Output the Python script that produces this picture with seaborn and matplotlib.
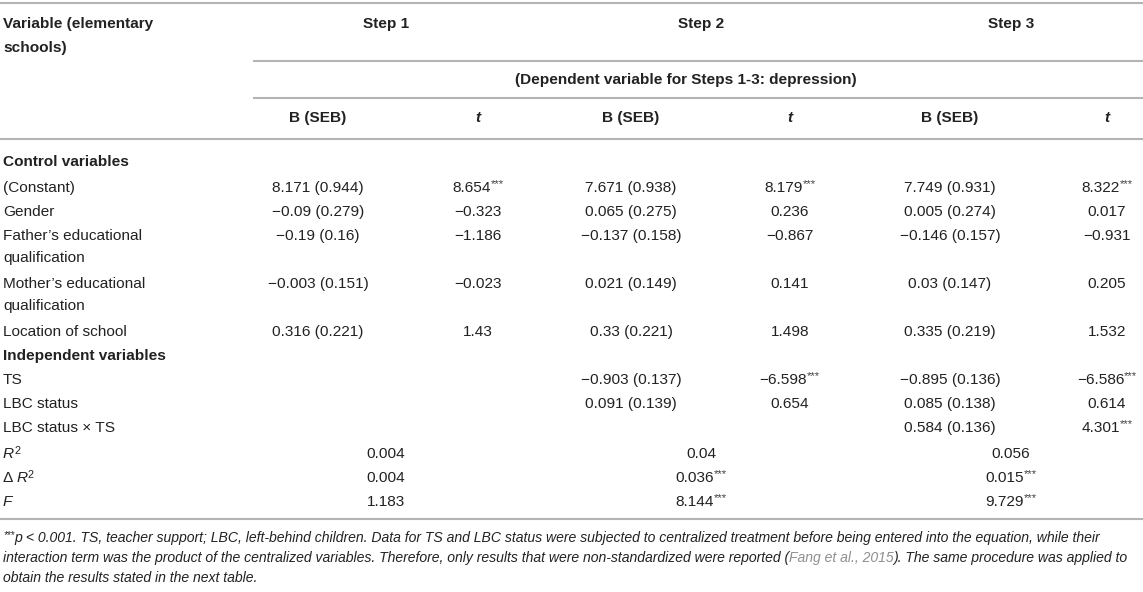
import matplotlib
matplotlib.use("Agg")
import matplotlib.pyplot as plt
import seaborn as sns

# ---------------- data ----------------
row_labels = ["(Constant)", "Gender", "Father’s educational\nqualification",
              "Mother’s educational\nqualification", "Location of school",
              "TS", "LBC status", "LBC status × TS"]
sections = ["Control variables", "Independent variables"]
step_names = ["Step 1", "Step 2", "Step 3"]

step1_B = [8.171, -0.09, -0.19, -0.003, 0.316, None, None, None]
step1_SE = [0.944, 0.279, 0.16, 0.151, 0.221, None, None, None]
step1_t = [8.654, -0.323, -1.186, -0.023, 1.43, None, None, None]
step1_sig = [3, 0, 0, 0, 0, 0, 0, 0]

step2_B = [7.671, 0.065, -0.137, 0.021, 0.33, -0.903, 0.091, None]
step2_SE = [0.938, 0.275, 0.158, 0.149, 0.221, 0.137, 0.139, None]
step2_t = [8.179, 0.236, -0.867, 0.141, 1.498, -6.598, 0.654, None]
step2_sig = [3, 0, 0, 0, 0, 3, 0, 0]

step3_B = [7.749, 0.005, -0.146, 0.03, 0.335, -0.895, 0.085, 0.584]
step3_SE = [0.931, 0.274, 0.157, 0.147, 0.219, 0.136, 0.138, 0.136]
step3_t = [8.322, 0.017, -0.931, 0.205, 1.532, -6.586, 0.614, 4.301]
step3_sig = [3, 0, 0, 0, 0, 3, 0, 3]

R2 = [0.004, 0.04, 0.056]
R2_sig = [0, 0, 0]
dR2 = [0.004, 0.036, 0.015]
dR2_sig = [0, 3, 3]
F_vals = [1.183, 8.144, 9.729]
F_sig = [0, 3, 3]

footnote_lines = [
    [("***", "sup"), ("p", "it"),
     (" < 0.001. TS, teacher support; LBC, left-behind children. Data for TS and LBC status were subjected to centralized treatment before being entered into the equation, while their", "it")],
    [("interaction term was the product of the centralized variables. Therefore, only results that were non-standardized were reported (", "it"),
     ("Fang et al., 2015", "link"),
     ("). The same procedure was applied to", "it")],
    [("obtain the results stated in the next table.", "it")],
]

# ---------------- style ----------------
sns.set_theme(style="white")
plt.rcParams["font.family"] = ["Liberation Sans", "DejaVu Sans"]

W, H = 1143, 592
TXT = "#222222"
RULE = "#b4b4b4"
LINK = "#8f8f8f"
FS = 11.1

fig = plt.figure(figsize=(W / 100, H / 100), dpi=100)
ax = fig.add_axes([0, 0, 1, 1])
ax.set_xlim(0, W)
ax.set_ylim(H, 0)
ax.axis("off")
renderer = fig.canvas.get_renderer()


def measure(s, size, weight, style):
    t = ax.text(0, 0, s + "|", fontsize=size, fontweight=weight, fontstyle=style)
    w1 = t.get_window_extent(renderer).width
    t.set_text("|")
    w2 = t.get_window_extent(renderer).width
    t.remove()
    return w1 - w2


def rich(x, y, parts, ha="left", draw=True):
    """parts: list of dicts(text, size, weight, style, dy, color). y = row centre."""
    widths = [measure(p["text"], p.get("size", FS), p.get("weight", "normal"),
                      p.get("style", "normal")) for p in parts]
    total = sum(widths)
    if not draw:
        return total
    x0 = x - total / 2 if ha == "center" else x
    base = round(y + 4.5)
    for p, w in zip(parts, widths):
        ax.text(x0, base + p.get("dy", 0), p["text"], ha="left", va="baseline",
                fontsize=p.get("size", FS), fontweight=p.get("weight", "normal"),
                fontstyle=p.get("style", "normal"), color=p.get("color", TXT))
        x0 += w
    return total


def fmt(v):
    return f"{v:g}".replace("-", "\u2212")


def value_parts(text, nstars, size=FS):
    parts = [dict(text=text, size=size)]
    if nstars:
        parts.append(dict(text="*" * nstars, size=8.2, dy=-4.5, color="#444444"))
    return parts


def rule(y, x0=0, x1=W):
    ax.plot([x0, x1], [y, y], color=RULE, lw=1.5, solid_capstyle="butt")


# ---------------- layout ----------------
LEFT = 3
step_cx = [386, 701, 1011]
b_cx = [318, 631, 950]
t_cx = [478, 790, 1107]
row_y = [187, 211, 235, 283, 331, 380, 404, 428]
section_y = [162, 355]
stat_y = [453, 477, 501]
line_gap = 22

# rules
rule(3)
rule(61, 253)
rule(98, 253)
rule(139)
rule(519)

# header
rich(LEFT, 23, [dict(text="Variable (elementary", weight="bold")])
rich(LEFT, 47, [dict(text="schools)", weight="bold")])
for cx, name in zip(step_cx, step_names):
    rich(cx, 23, [dict(text=name, weight="bold")], ha="center")
rich(686, 80, [dict(text="(Dependent variable for Steps 1-3: depression)", weight="bold")], ha="center")
for bx, tx in zip(b_cx, t_cx):
    rich(bx, 118, [dict(text="B (SEB)", weight="bold")], ha="center")
    rich(tx, 118, [dict(text="t", weight="bold", style="italic")], ha="center")

# sections
for sy, sname in zip(section_y, sections):
    rich(LEFT, sy, [dict(text=sname, weight="bold")])

# body rows
steps = [(step1_B, step1_SE, step1_t, step1_sig),
         (step2_B, step2_SE, step2_t, step2_sig),
         (step3_B, step3_SE, step3_t, step3_sig)]
for i, (label, y) in enumerate(zip(row_labels, row_y)):
    for k, line in enumerate(label.split("\n")):
        rich(LEFT, y + k * line_gap, [dict(text=line)])
    for (B, SE, T, SIG), bx, tx in zip(steps, b_cx, t_cx):
        if B[i] is None:
            continue
        rich(bx, y, value_parts(f"{fmt(B[i])} ({fmt(SE[i])})", 0), ha="center")
        rich(tx, y, value_parts(fmt(T[i]), SIG[i]), ha="center")

# model statistics
stat_labels = [
    [dict(text="R", style="italic"), dict(text="2", size=7.8, dy=-4.5)],
    [dict(text="Δ "), dict(text="R", style="italic"), dict(text="2", size=7.8, dy=-4.5)],
    [dict(text="F", style="italic")],
]
stat_vals = [(R2, R2_sig), (dR2, dR2_sig), (F_vals, F_sig)]
for lab, y, (vals, sig) in zip(stat_labels, stat_y, stat_vals):
    rich(LEFT, y, lab)
    for cx, v, s in zip(step_cx, vals, sig):
        rich(cx, y, value_parts(fmt(v), s), ha="center")


# footnote: fit the widest line to the table width
def foot_parts(segs, fs):
    parts = []
    for s, kind in segs:
        if kind == "sup":
            parts.append(dict(text=s, size=fs * 0.7, style="italic", dy=-4))
        elif kind == "link":
            parts.append(dict(text=s, size=fs, style="italic", color=LINK))
        else:
            parts.append(dict(text=s, size=fs, style="italic"))
    return parts


w10 = max(rich(LEFT, 0, foot_parts(segs, 10), draw=False) for segs in footnote_lines)
FFS = 10 * (W - 2 * LEFT - 2) / w10
foot_y = [538, 558, 578]
for y, segs in zip(foot_y, footnote_lines):
    rich(LEFT, y, foot_parts(segs, FFS))

fig.savefig("out.png", dpi=100)
